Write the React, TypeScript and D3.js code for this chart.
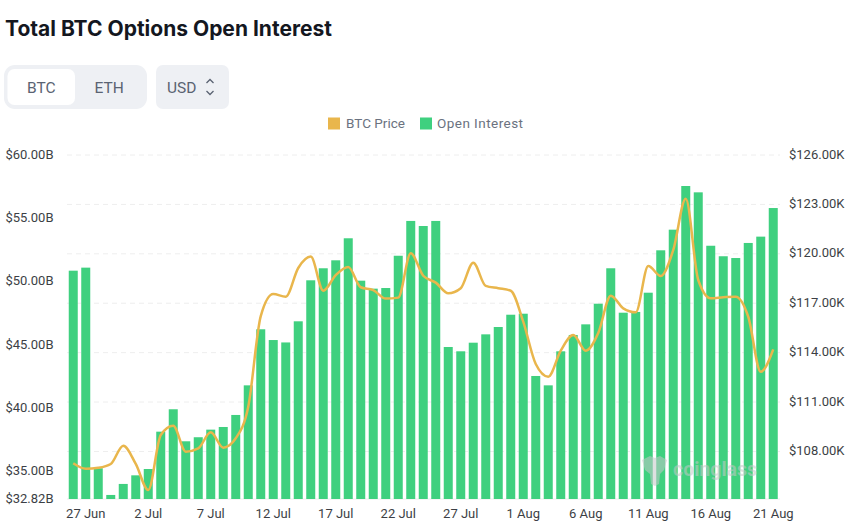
import React, { useEffect, useRef } from 'react';
import * as d3 from 'd3';

const dates = [
  '26 Jun', '27 Jun', '28 Jun', '29 Jun', '30 Jun',
  '1 Jul', '2 Jul', '3 Jul', '4 Jul', '5 Jul', '6 Jul', '7 Jul', '8 Jul', '9 Jul', '10 Jul',
  '11 Jul', '12 Jul', '13 Jul', '14 Jul', '15 Jul', '16 Jul', '17 Jul', '18 Jul', '19 Jul', '20 Jul',
  '21 Jul', '22 Jul', '23 Jul', '24 Jul', '25 Jul', '26 Jul', '27 Jul', '28 Jul', '29 Jul', '30 Jul', '31 Jul',
  '1 Aug', '2 Aug', '3 Aug', '4 Aug', '5 Aug', '6 Aug', '7 Aug', '8 Aug', '9 Aug', '10 Aug',
  '11 Aug', '12 Aug', '13 Aug', '14 Aug', '15 Aug', '16 Aug', '17 Aug', '18 Aug', '19 Aug', '20 Aug', '21 Aug',
];

// billions of USD
const openInterest = [
  50.86, 51.1, 35.25, 33.14, 34.01, 34.69, 35.19, 38.14, 39.91, 37.38,
  37.7, 38.3, 38.51, 39.46, 41.8, 46.23, 45.38, 45.19, 46.86, 50.1,
  51.05, 51.68, 53.42, 50.07, 49.44, 49.49, 52.04, 54.79, 54.39, 54.79,
  44.83, 44.49, 45.17, 45.83, 46.41, 47.38, 47.46, 42.54, 41.8, 44.49,
  45.78, 46.62, 48.25, 51.05, 47.54, 47.6, 49.12, 52.47, 54.1, 57.55,
  57.05, 52.83, 52.0, 51.86, 53.05, 53.55, 55.81,
];

// thousands of USD
const btcPrice = [
  107.28, 106.95, 107.01, 107.24, 108.35, 107.24, 105.66, 109.0, 109.56, 107.99,
  108.19, 109.16, 108.23, 108.8, 110.72, 116.22, 117.56, 117.4, 119.14, 119.83,
  117.76, 118.71, 119.2, 117.97, 117.8, 117.28, 117.34, 120.03, 118.67, 118.25,
  117.6, 117.91, 119.46, 118.05, 117.91, 117.76, 115.88, 113.31, 112.54, 114.12,
  115.07, 114.12, 115.19, 117.46, 116.69, 116.45, 119.26, 118.65, 120.23, 123.35,
  118.41, 117.3, 117.36, 117.4, 116.18, 112.84, 114.2,
];

const leftTicks = [32.82, 35, 40, 45, 50, 55, 60];
const rightTicks = [108, 111, 114, 117, 120, 123, 126];
const xLabels = dates.filter((_, i) => i % 5 === 1);

const GREEN = '#3fd07f';
const GOLD = '#e9b64c';
const FONT = 'Roboto, sans-serif';

const draw = (node: SVGSVGElement) => {
  const svg = d3.select(node);
  svg.selectAll('*').remove();

  const top = 155;
  const bottom = 499;

  const x = d3.scaleBand().domain(dates).range([67, 779.5]).paddingInner(0.28).paddingOuter(0.14);
  const yLeft = d3.scaleLinear().domain([32.82, 60]).range([bottom, top]);
  const yRight = d3.scaleLinear().domain([126 - (bottom - top) / 16.47, 126]).range([bottom, top]);

  // header
  svg.append('text').attr('x', 5).attr('y', 36).text('Total BTC Options Open Interest')
    .attr('font-family', 'Inter, sans-serif').attr('font-weight', 700).attr('font-size', 21).attr('fill', '#14171f');

  svg.append('rect').attr('x', 4).attr('y', 65).attr('width', 143).attr('height', 44).attr('rx', 11).attr('fill', '#eef0f4');
  svg.append('rect').attr('x', 7.5).attr('y', 69).attr('width', 67.5).attr('height', 36).attr('rx', 7).attr('fill', '#fff');
  svg.append('rect').attr('x', 156).attr('y', 65).attr('width', 73).attr('height', 44).attr('rx', 7).attr('fill', '#eef0f4');

  const btn = (tx: number, label: string) =>
    svg.append('text').attr('x', tx).attr('y', 92.5).text(label).attr('font-family', FONT)
      .attr('font-size', 15.5).attr('fill', '#5a6372');
  btn(27, 'BTC');
  btn(94.5, 'ETH');
  btn(167, 'USD');
  svg.append('path').attr('d', 'M206.5 83 L210 79.5 L213.5 83 M206.5 91 L210 94.5 L213.5 91')
    .attr('fill', 'none').attr('stroke', '#5a6372').attr('stroke-width', 1.3);

  // legend
  const legend = [
    { label: 'BTC Price', color: GOLD, sx: 328, tx: 346, len: 59 },
    { label: 'Open Interest', color: GREEN, sx: 420, tx: 437, len: 86 },
  ];
  legend.forEach(l => {
    svg.append('rect').attr('x', l.sx).attr('y', 117.5).attr('width', 12).attr('height', 12).attr('fill', l.color);
    svg.append('text').attr('x', l.tx).attr('y', 127.5).text(l.label).attr('font-family', FONT)
      .attr('font-size', 13.5).attr('textLength', l.len).attr('fill', '#6b7280');
  });

  // gridlines follow the right axis
  svg.append('g').selectAll('line').data(rightTicks).enter().append('line')
    .attr('x1', 67).attr('x2', 780)
    .attr('y1', d => yRight(d)).attr('y2', d => yRight(d))
    .attr('stroke', '#eeeeee').attr('stroke-dasharray', '5 4');
  svg.append('line').attr('x1', 67).attr('x2', 780).attr('y1', bottom).attr('y2', bottom).attr('stroke', '#eeeeee');

  svg.append('g').selectAll('rect').data(openInterest).enter().append('rect')
    .attr('x', (_, i) => x(dates[i]) as number)
    .attr('y', d => yLeft(d))
    .attr('width', x.bandwidth())
    .attr('height', d => bottom - yLeft(d))
    .attr('fill', GREEN);

  const line = d3.line<number>()
    .x((_, i) => (x(dates[i]) as number) + x.bandwidth() / 2)
    .y(d => yRight(d))
    .curve(d3.curveMonotoneX);
  svg.append('path').attr('d', line(btcPrice)).attr('fill', 'none').attr('stroke', GOLD).attr('stroke-width', 2.5);

  // watermark
  const wm = svg.append('g').attr('opacity', 0.55).attr('fill', '#c4c8c8');
  wm.append('path').attr('d', 'M642 460 L650 456 L655 458 L660 456 L667 460 L664 470 L660 474 L659 484 L655 486 L651 484 L650 474 L645 470 Z');
  wm.append('text').attr('x', 673).attr('y', 476).text('coinglass').attr('font-family', FONT)
    .attr('font-weight', 700).attr('font-size', 19.5);

  // axes
  const styleAxis = (g: any) => {
    g.select('.domain').remove();
    g.selectAll('.tick line').remove();
    g.selectAll('text').attr('font-family', FONT).attr('font-size', 13).attr('fill', '#3c3f45');
  };

  svg.append('g').attr('transform', 'translate(53.5,-1)')
    .call(d3.axisLeft(yLeft).tickValues(leftTicks).tickFormat(d => `$${(+d).toFixed(2)}B`).tickSize(0).tickPadding(0))
    .call(styleAxis);

  svg.append('g').attr('transform', 'translate(789,-1)')
    .call(d3.axisRight(yRight).tickValues(rightTicks).tickFormat(d => `$${(+d).toFixed(2)}K`).tickSize(0).tickPadding(0))
    .call(styleAxis);

  svg.append('g').attr('transform', `translate(0,${bottom})`)
    .call(d3.axisBottom(x).tickValues(xLabels).tickSize(0).tickPadding(10))
    .call(styleAxis);
};

export default function App() {
  const ref = useRef<SVGSVGElement>(null);

  useEffect(() => {
    if (ref.current) draw(ref.current);
  }, []);

  return (
    <svg ref={ref} width={860} height={523} style={{ position: 'absolute', left: 0, top: 0, background: '#fff' }} />
  );
}
